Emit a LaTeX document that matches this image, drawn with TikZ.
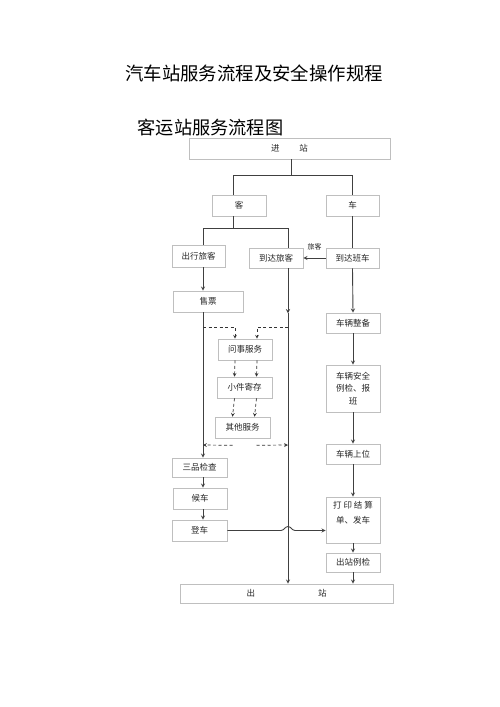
\documentclass[tikz,border=0pt]{standalone}
\usepackage{fontspec}
\setmainfont{Noto Sans CJK SC}
\usetikzlibrary{arrows,positioning,calc}

\begin{document}
\begin{tikzpicture}[x=1pt,y=-1pt,>=stealth,
    box/.style={draw=gray!50, line width=0.6pt, inner sep=0pt, align=center,
        text=black!85, font=\fontsize{8.5}{12.5}\selectfont},
    flow/.style={draw=black!75, line width=0.9pt},
    dflow/.style={draw=black!80, line width=0.7pt, dash pattern=on 3pt off 2.5pt}]
    \useasboundingbox (0,0) rectangle (500,707);

    % titles
    \node (title) at (254,73) {\fontsize{18.4}{20}\selectfont 汽车站服务流程及安全操作规程};
    \node (subtitle) at (210.5,128) {\fontsize{18.2}{20}\selectfont 客运站服务流程图};

    % boxes
    \node[box, minimum width=201, minimum height=21] (jinzhan) at (289.5,148.5) {进\hspace{20pt}站};
    \node[box, minimum width=54, minimum height=21] (ke) at (239,205.5) {客};
    \node[box, minimum width=53, minimum height=21] (che) at (352.5,205.5) {车};
    \node[box, minimum width=53, minimum height=22] (chuxing) at (198.5,256) {出行旅客};
    \node[box, minimum width=54, minimum height=20] (daodalk) at (276,258) {到达旅客};
    \node[box, minimum width=53, minimum height=20] (daodabc) at (352.5,258) {到达班车};
    \node[box, minimum width=70, minimum height=21] (shoupiao) at (208,301.5) {售票};
    \node[box, minimum width=54, minimum height=20] (zhengbei) at (353,323) {车辆整备};
    \node[box, minimum width=54, minimum height=21] (wenshi) at (245,349.5) {问事服务};
    \node[box, minimum width=55, minimum height=21] (xiaojian) at (244.5,387.5) {小件寄存};
    \node[box, minimum width=55, minimum height=21] (qita) at (242.5,427.5) {其他服务};
    \node[box, minimum width=54, minimum height=47] (lijian) at (353,388.5) {车辆安全\\例检、报\\班};
    \node[box, minimum width=54, minimum height=20] (shangwei) at (353,454) {车辆上位};
    \node[box, minimum width=55, minimum height=19] (sanpin) at (199.5,467.5) {三品检查};
    \node[box, minimum width=54, minimum height=21] (houche) at (200,498.5) {候车};
    \node[box, minimum width=55, minimum height=21] (dengche) at (199.5,530.5) {登车};
    \node[box, minimum width=54, minimum height=46, font=\fontsize{8.5}{15}\selectfont] (dayin) at (353,520) {打 印 结 算\\单、发车\\ \mbox{}};
    \node[box, minimum width=54, minimum height=19] (chuzhanlj) at (353,562.5) {出站例检};
    \node[box, minimum width=213, minimum height=19] (chuzhan) at (286.5,593.5) {出\hspace{63pt}站};

    % column lines
    \coordinate (colL) at (203,0);
    \coordinate (colR) at (288,0);

    % 进站 -> 客 / 车
    \coordinate (fork1) at ($(jinzhan.south)+(1.5,16.5)$);
    \draw[flow] ($(jinzhan.south)+(1.5,0)$) -- (fork1);
    \draw[flow] (fork1) -| ([xshift=-6pt]ke.north);
    \draw[flow] (fork1) -| (che.north);

    % 客 -> 出行旅客 / 到达旅客
    \coordinate (fork2) at ($(ke.south)+(-6,12)$);
    \draw[flow] ([xshift=-6pt]ke.south) -- (fork2);
    \draw[flow] (fork2) -| (chuxing.north -| colL);
    \draw[flow] (fork2) -| (daodalk.north -| colR);

    % 车 -> 到达班车 -> 到达旅客
    \draw[flow] (che.south) -- (daodabc.north);
    \draw[flow,->] (daodabc.west) -- (daodalk.east)
        node[midway, above=4pt, font=\fontsize{7}{8}\selectfont, text=black!85] {旅客};

    % left column
    \draw[flow,->] (chuxing.south -| colL) -- (shoupiao.north -| colL);
    \draw[flow,->] (shoupiao.south -| colL) -- (sanpin.north -| colL);
    \draw[flow,->] (sanpin.south -| colL) -- (houche.north -| colL);
    \draw[flow,->] (houche.south -| colL) -- (dengche.north -| colL);

    % right passenger line
    \coordinate (rmid) at ($(daodalk.south -| colR)+(0,45)$);
    \draw[flow,->] (daodalk.south -| colR) -- (rmid);
    \draw[flow,->] (rmid) -- (chuzhan.north -| colR);

    % services (dashed)
    \coordinate (dtop) at (0,327);
    \draw[dflow,->] (colL |- dtop) -| ([xshift=-10pt]wenshi.north);
    \draw[dflow,->] (colR |- dtop) -| ([xshift=12pt]wenshi.north);
    \foreach \dx in {-10,12} {
        \draw[dflow,->] ([xshift=\dx pt]wenshi.south) -- ([xshift=\dx pt]xiaojian.north);
        \draw[dflow,->] ([xshift=\dx pt]xiaojian.south) -- ([xshift=\dx pt]qita.north);
    }
    \draw[dflow,->] ($(qita.south)+(-10,7)$) -- (colL |- 0,445);
    \draw[dflow,->] ($(qita.south)+(14,7)$) -- (colR |- 0,445);

    % vehicle column
    \draw[flow,->] (daodabc.south) -- (zhengbei.north);
    \draw[flow,->] (zhengbei.south) -- (lijian.north);
    \draw[flow,->] (lijian.south) -- (shangwei.north);
    \draw[flow,->] (shangwei.south) -- (dayin.north);
    \draw[flow,->] (dayin.south) -- (chuzhanlj.north);
    \draw[flow,->] (chuzhanlj.south) -- (chuzhan.north -| chuzhanlj.south);

    % 登车 -> 打印结算单 (hop over line)
    \coordinate (hop) at (colR |- dengche.east);
    \draw[flow,->] (dengche.east) -- ($(hop)+(-7,0)$)
        .. controls +(3,0) and +(-3,0) .. ($(hop)+(0,-4)$)
        .. controls +(3,0) and +(-3,0) .. ($(hop)+(7,0)$)
        -- (dayin.west |- dengche.east);
\end{tikzpicture}
\end{document}
